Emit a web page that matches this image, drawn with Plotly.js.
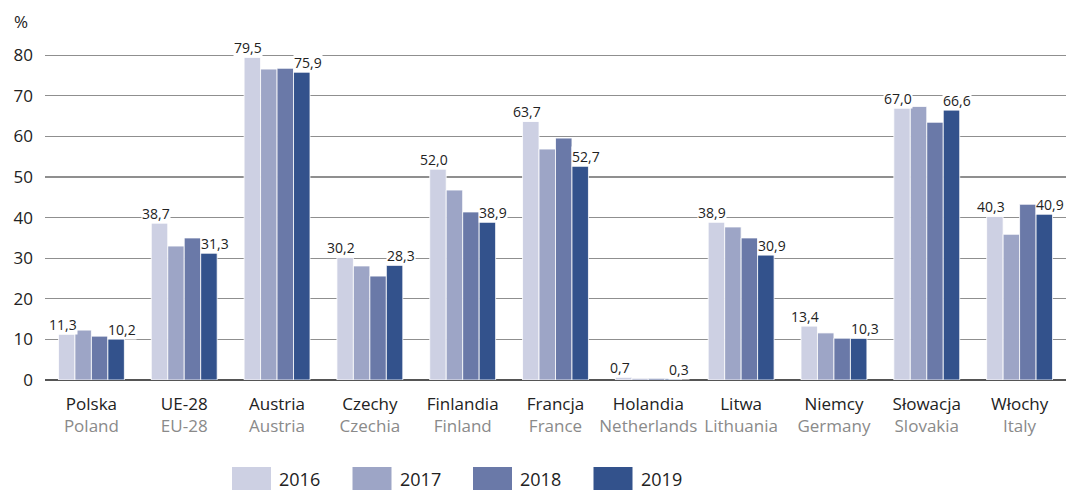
<!DOCTYPE html>
<html>
<head>
<meta charset="utf-8">
<script src="https://cdn.plot.ly/plotly-3.0.1.min.js"></script>
<style>html,body{margin:0;padding:0;background:#fff;}#chart{width:1069px;height:490px;}</style>
</head>
<body>
<div id="chart"></div>
<script>
var categoriesPL = ["Polska","UE-28","Austria","Czechy","Finlandia","Francja","Holandia","Litwa","Niemcy","Słowacja","Włochy"];
var categoriesEN = ["Poland","EU-28","Austria","Czechia","Finland","France","Netherlands","Lithuania","Germany","Slovakia","Italy"];
var years = ["2016","2017","2018","2019"];
var colors = ["#cdd0e3","#9da5c6","#6a79a8","#33528c"];
var v2016 = [11.3,38.7,79.5,30.2,52.0,63.7,0.7,38.9,13.4,67.0,40.3];
var v2017 = [12.3,33.0,76.6,28.1,46.8,56.9,0.4,37.7,11.6,67.4,35.9];
var v2018 = [10.8,35.0,76.8,25.6,41.4,59.6,0.4,35.0,10.3,63.5,43.3];
var v2019 = [10.2,31.3,75.9,28.3,38.9,52.7,0.3,30.9,10.3,66.6,40.9];
var seriesValues = [v2016,v2017,v2018,v2019];
var yTicks = [0,10,20,30,40,50,60,70,80];

var idx = categoriesPL.map(function(_, i){ return i; });
var tickText = categoriesPL.map(function(c, i){
  return c + "<br><span style='color:#8a8a8a'>" + categoriesEN[i] + "</span>";
});

var traces = seriesValues.map(function(vals, s){
  return {
    type: "bar", x: idx, y: vals, name: years[s],
    marker: {color: colors[s], line: {color: "#ffffff", width: 0.8}},
    showlegend: false, hoverinfo: "none"
  };
});

var bargap = 0.29;
var barW = (1 - bargap) / 4;
var fmt = function(v){ return v.toFixed(1).replace(".", ","); };
var lblFont = {family: "Open Sans", size: 14, color: "#222"};
var annotations = [];
idx.forEach(function(i){
  annotations.push({x: i - 1.5*barW, y: v2016[i], xref: "x", yref: "y", text: fmt(v2016[i]),
    showarrow: false, yanchor: "bottom", xshift: -4, yshift: -1, bgcolor: "#ffffff", borderpad: 0,
    font: lblFont});
  annotations.push({x: i + 1.5*barW, y: v2019[i], xref: "x", yref: "y", text: fmt(v2019[i]),
    showarrow: false, yanchor: "bottom", xshift: 6, yshift: -1, bgcolor: "#ffffff", borderpad: 0,
    font: lblFont});
});

// plot area geometry (pixels)
var W = 1069, H = 490, mL = 45, mR = 3, mT = 35, mB = 110;
var pw = W - mL - mR, ph = H - mT - mB;
function px2x(p){ return (p - mL) / pw; }
function py2y(p){ return (H - mB - p) / ph; }

annotations.push({xref: "paper", yref: "paper", x: px2x(21), y: py2y(22), text: "%",
  showarrow: false, xanchor: "center", yanchor: "middle",
  font: {family: "Open Sans", size: 17, color: "#222"}});

var shapes = [];
years.forEach(function(yr, s){
  var x0 = 232 + s*120.5;
  shapes.push({type: "rect", xref: "paper", yref: "paper",
    x0: px2x(x0), x1: px2x(x0 + 39), y0: py2y(490), y1: py2y(467),
    fillcolor: colors[s], line: {width: 0}});
  annotations.push({xref: "paper", yref: "paper", x: px2x(x0 + 45), y: py2y(479), text: yr,
    showarrow: false, xanchor: "left", yanchor: "middle",
    font: {family: "Open Sans", size: 18, color: "#222"}});
});

var layout = {
  width: W, height: H,
  margin: {l: mL, r: mR, t: mT, b: mB, pad: 0},
  paper_bgcolor: "#ffffff", plot_bgcolor: "#ffffff",
  barmode: "group", bargap: bargap, bargroupgap: 0,
  separators: ",.",
  font: {family: "Open Sans", color: "#222"},
  xaxis: {
    tickmode: "array", tickvals: idx, ticktext: tickText,
    range: [-0.5, categoriesPL.length - 0.5],
    showgrid: false, zeroline: false, showline: false, ticks: "",
    ticklabelstandoff: 12,
    tickfont: {family: "Open Sans", size: 17, color: "#222"}, automargin: false
  },
  yaxis: {
    range: [0, 85], tickmode: "array", tickvals: yTicks,
    showgrid: true, gridcolor: "#8f8f8f", gridwidth: 1.2,
    zeroline: true, zerolinecolor: "#555", zerolinewidth: 1.6,
    showline: false, ticks: "", ticklabelstandoff: 11,
    tickfont: {family: "Open Sans", size: 17, color: "#222"}, automargin: false
  },
  annotations: annotations,
  shapes: shapes,
  showlegend: false
};

Plotly.newPlot("chart", traces, layout, {displayModeBar: false, staticPlot: true});
</script>
</body>
</html>
